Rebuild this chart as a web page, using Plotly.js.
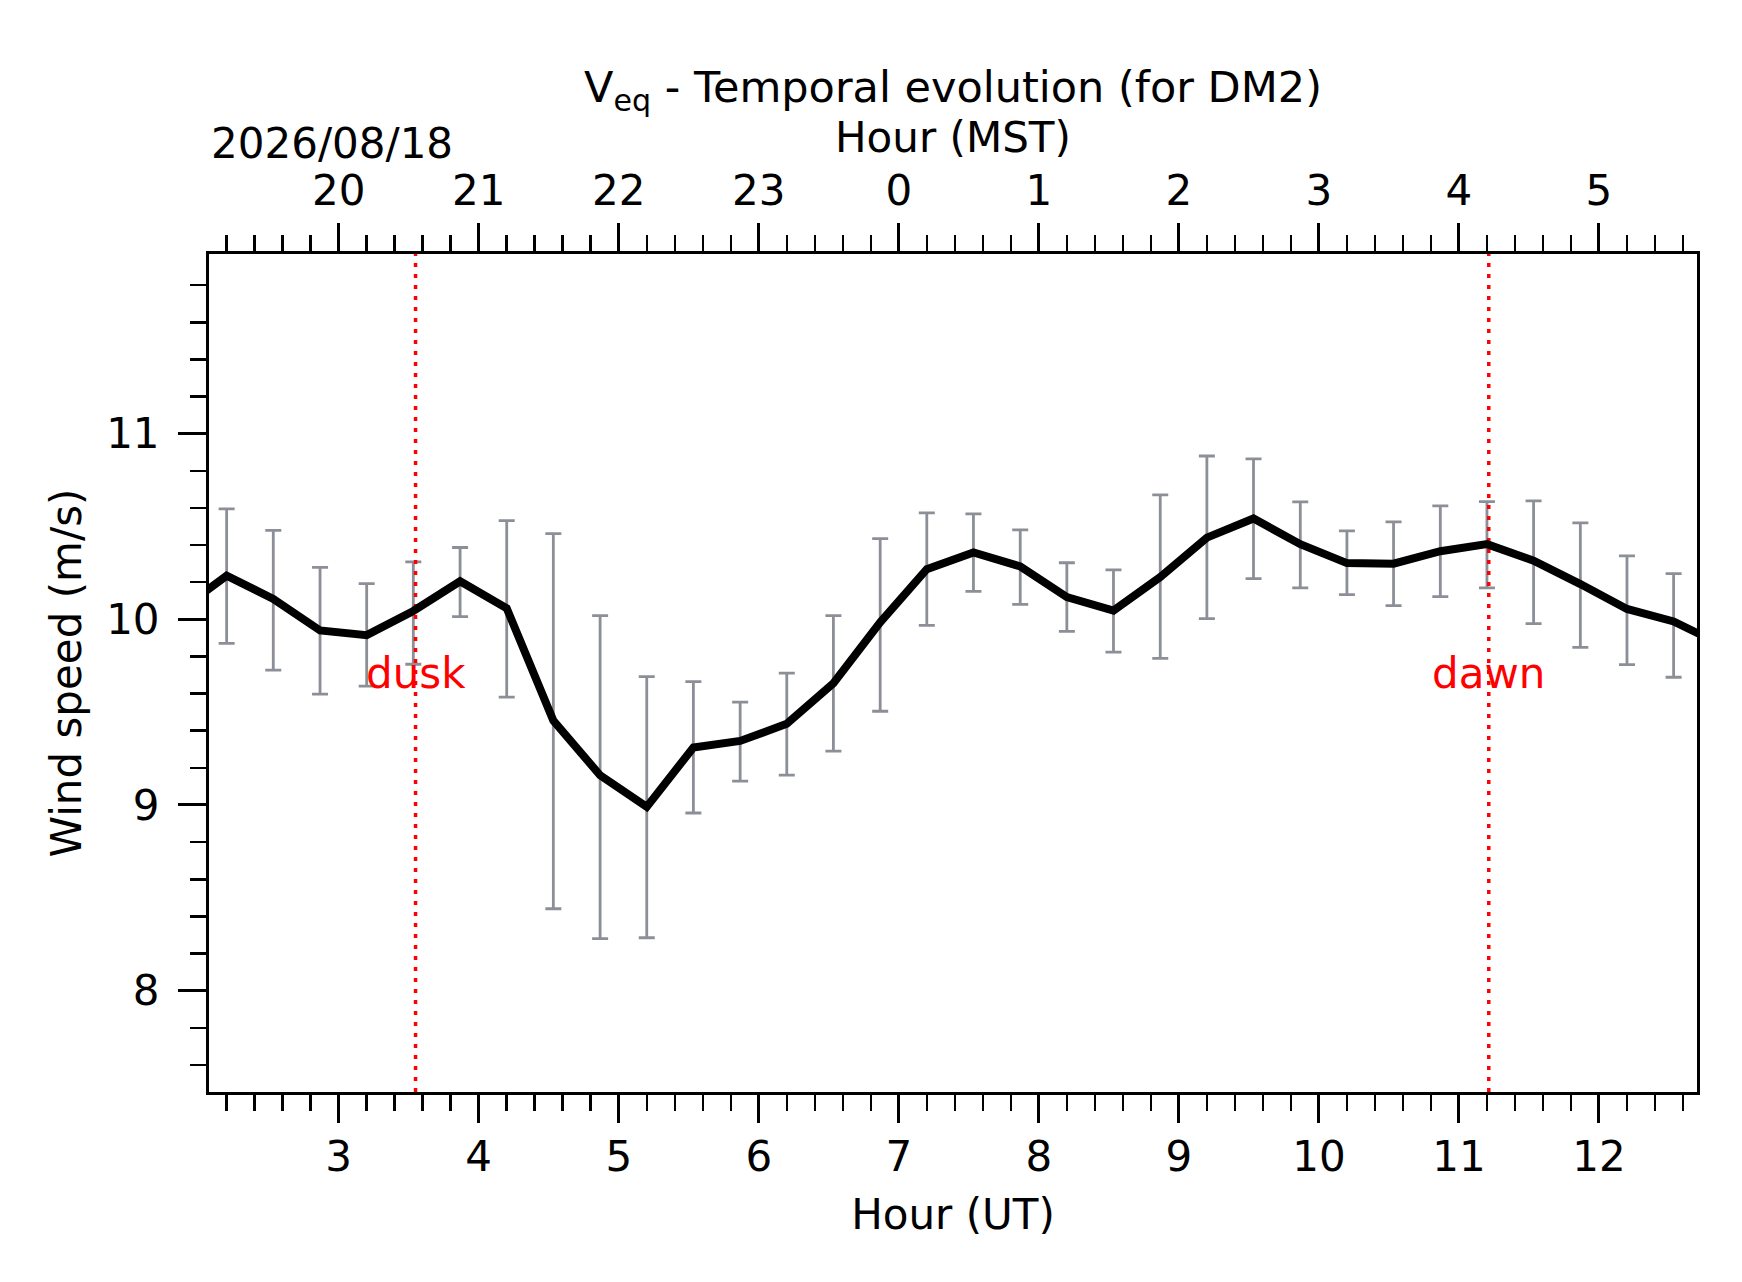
<!DOCTYPE html>
<html>
<head>
<meta charset="utf-8">
<script src="https://cdn.plot.ly/plotly-3.0.1.min.js"></script>
<style>
  html, body { margin: 0; padding: 0; background: #fff; }
  #plot { width: 1742px; height: 1282px; }
</style>
</head>
<body>
<div id="plot"></div>
<script>
// Hours (UT), one sample every 20 min (first and last lie just outside the frame)
var hoursUT = [1.867, 2.2, 2.533, 2.867, 3.2, 3.533, 3.867, 4.2, 4.533, 4.867, 5.2,
    5.533, 5.867, 6.2, 6.533, 6.867, 7.2, 7.533, 7.867, 8.2, 8.533, 8.867, 9.2,
    9.533, 9.867, 10.2, 10.533, 10.867, 11.2, 11.533, 11.867, 12.2, 12.533, 12.867];

// Mean equatorward wind speed (m/s)
var speed = [10.05, 10.235, 10.11, 9.94, 9.915, 10.045, 10.205, 10.06, 9.455, 9.16, 8.99,
    9.31, 9.345, 9.437, 9.656, 9.984, 10.27, 10.36, 10.285, 10.12, 10.047, 10.228, 10.44,
    10.543, 10.405, 10.303, 10.3, 10.367, 10.405, 10.316, 10.19, 10.056, 9.989, 9.865];

// Error bar ends (m/s)
var upper = [10.36, 10.595, 10.479, 10.28, 10.192, 10.31, 10.387, 10.532, 10.462, 10.02, 9.692,
    9.665, 9.554, 9.71, 10.02, 10.435, 10.574, 10.568, 10.482, 10.305, 10.267, 10.67, 10.88,
    10.864, 10.633, 10.477, 10.525, 10.611, 10.634, 10.638, 10.52, 10.342, 10.246, 10.15];
var lower = [9.74, 9.871, 9.726, 9.597, 9.64, 9.758, 10.015, 9.581, 8.441, 8.28, 8.285,
    8.957, 9.129, 9.161, 9.29, 9.505, 9.968, 10.151, 10.081, 9.935, 9.823, 9.79, 10.004,
    10.219, 10.17, 10.133, 10.074, 10.122, 10.17, 9.977, 9.849, 9.756, 9.688, 9.58];

// Tick labels
var utTicks = [3, 4, 5, 6, 7, 8, 9, 10, 11, 12];
var utLabels = ['3', '4', '5', '6', '7', '8', '9', '10', '11', '12'];
var mstLabels = ['20', '21', '22', '23', '0', '1', '2', '3', '4', '5'];
var speedTicks = [8, 9, 10, 11];

var duskHour = 3.549;
var dawnHour = 11.213;
var dateLabel = '2026/08/18';

var xRange = [2.074, 12.70];
var yRange = [7.454, 11.968];

var FONT = 'DejaVu Sans, Liberation Sans, sans-serif';
var GREY = '#8c8f97';

var errPlus = upper.map(function (u, i) { return u - speed[i]; });
var errMinus = lower.map(function (l, i) { return speed[i] - l; });

var traces = [
    {   // error bars only
        x: hoursUT, y: speed, type: 'scatter', mode: 'markers',
        marker: { color: 'rgba(0,0,0,0)', size: 1 },
        error_y: { type: 'data', symmetric: false, array: errPlus, arrayminus: errMinus,
                   color: GREY, thickness: 2.8, width: 8 },
        hoverinfo: 'skip', showlegend: false
    },
    {   // dusk
        x: [duskHour, duskHour], y: yRange, type: 'scatter', mode: 'lines',
        line: { color: '#ff0000', width: 3.5, dash: '4px,7px' },
        hoverinfo: 'skip', showlegend: false
    },
    {   // dawn
        x: [dawnHour, dawnHour], y: yRange, type: 'scatter', mode: 'lines',
        line: { color: '#ff0000', width: 3.5, dash: '4px,7px' },
        hoverinfo: 'skip', showlegend: false
    },
    {   // mean wind
        x: hoursUT, y: speed, type: 'scatter', mode: 'lines',
        line: { color: '#000000', width: 8 },
        showlegend: false
    },
    {   // carrier for the MST axis
        x: hoursUT, y: speed, type: 'scatter', mode: 'lines', xaxis: 'x2',
        line: { color: 'rgba(0,0,0,0)', width: 0 },
        hoverinfo: 'skip', showlegend: false
    }
];

var tickFont = { family: FONT, size: 42, color: '#000' };
var labelFont = { family: FONT, size: 42, color: '#000' };

var minorTicks = { tick0: 0, dtick: 0.2, ticks: 'outside', ticklen: 16, tickwidth: 2.5,
                   tickcolor: '#000', showgrid: false };

var layout = {
    width: 1742, height: 1282,
    margin: { l: 209, r: 45, t: 254, b: 190 },
    paper_bgcolor: '#fff', plot_bgcolor: '#fff',
    font: { family: FONT, color: '#000' },
    title: {
        text: 'V<sub>eq</sub> - Temporal evolution (for DM2)',
        font: { family: FONT, size: 43, color: '#000' },
        x: 0.5, xref: 'paper', xanchor: 'center',
        y: 1 - 87 / 1282, yref: 'container', yanchor: 'middle'
    },
    xaxis: {
        range: xRange, tickmode: 'array', tickvals: utTicks, ticktext: utLabels,
        ticks: 'outside', ticklen: 28, tickwidth: 3, tickcolor: '#000',
        ticklabelstandoff: -2,
        minor: minorTicks,
        showline: true, linewidth: 3, linecolor: '#000', mirror: true,
        showgrid: false, zeroline: false, tickfont: tickFont,
        title: { text: 'Hour (UT)', font: labelFont, standoff: 20 }
    },
    xaxis2: {
        overlaying: 'x', side: 'top', anchor: 'y', matches: 'x',
        range: xRange, tickmode: 'array', tickvals: utTicks, ticktext: mstLabels,
        ticks: 'outside', ticklen: 28, tickwidth: 3, tickcolor: '#000',
        ticklabelstandoff: 1,
        minor: minorTicks,
        showline: true, linewidth: 3, linecolor: '#000',
        showgrid: false, zeroline: false, tickfont: tickFont
    },
    yaxis: {
        range: yRange, tickmode: 'array', tickvals: speedTicks,
        ticks: 'outside', ticklen: 28, tickwidth: 3, tickcolor: '#000',
        ticklabelstandoff: 10,
        minor: minorTicks,
        showline: true, linewidth: 3, linecolor: '#000', mirror: true,
        showgrid: false, zeroline: false, tickfont: tickFont,
        title: { text: 'Wind speed (m/s)', font: labelFont, standoff: 12 }
    },
    annotations: [
        { text: 'Hour (MST)', xref: 'paper', yref: 'paper', x: 0.5, xanchor: 'center',
          y: (1092.3 - 137) / 838.3, yanchor: 'middle', showarrow: false, font: labelFont },
        { text: dateLabel, xref: 'paper', yref: 'paper', x: 0, xanchor: 'left',
          y: (1092.3 - 143) / 838.3, yanchor: 'middle', showarrow: false, font: labelFont },
        { text: 'dusk', xref: 'x', yref: 'y', x: duskHour, y: 9.71, xanchor: 'center',
          yanchor: 'middle', showarrow: false, font: { family: FONT, size: 42, color: '#ff0000' } },
        { text: 'dawn', xref: 'x', yref: 'y', x: dawnHour, y: 9.71, xanchor: 'center',
          yanchor: 'middle', showarrow: false, font: { family: FONT, size: 42, color: '#ff0000' } }
    ]
};

Plotly.newPlot('plot', traces, layout, { displayModeBar: false, staticPlot: true });
</script>
</body>
</html>
